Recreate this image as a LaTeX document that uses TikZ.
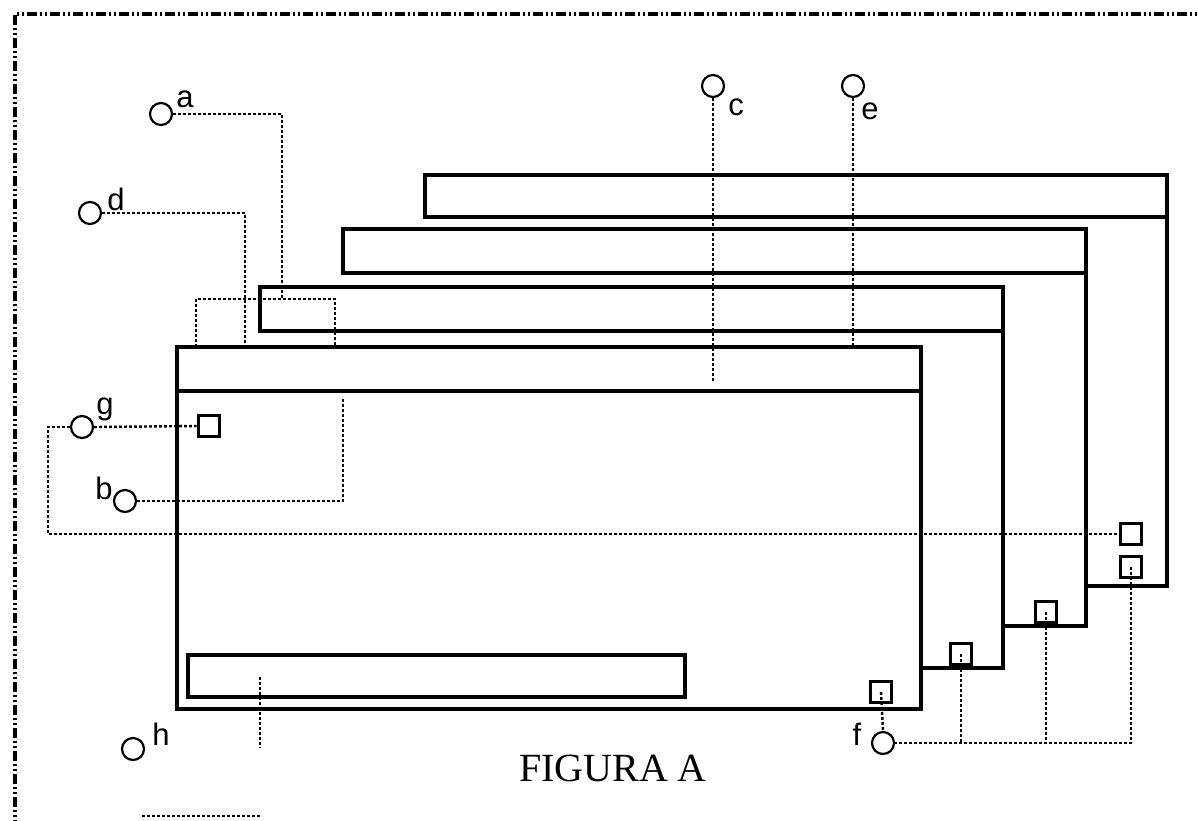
\documentclass[tikz,border=0pt]{standalone}
\usepackage{fontspec}
\setmainfont{Liberation Serif}
\newfontfamily\lblfont{Liberation Sans}
\begin{document}
\begin{tikzpicture}[x=0.5pt,y=-0.5pt,
  win/.style={line width=1.6pt, line join=miter},
  conn/.style={line width=1.2pt, dash pattern=on 1.4pt off 1.1pt},
  border/.style={line width=1.8pt, dash pattern=on 5pt off 1.3pt on 1.3pt off 1.3pt on 1.3pt off 1.3pt},
  port/.style={circle, draw, line width=1.1pt, minimum size=11pt, inner sep=0pt},
  sqbox/.style={rectangle, draw, line width=1.5pt, minimum size=10.8pt, inner sep=0pt},
  lbl/.style={inner sep=0pt, font=\lblfont\fontsize{15.5}{18}\selectfont}]
\useasboundingbox (0,0) rectangle (1198,820);
% outer frame
\draw[border] (15,830) -- (15,14) -- (1210,14);
% windows (back to front)
\draw[win] (425,175) rectangle (1167,217);
\draw[win] (1167,217) -- (1167,586) -- (1086,586);
\draw[win] (343,229) rectangle (1086,273);
\draw[win] (1086,273) -- (1086,626) -- (1003,626);
\draw[win] (260,287) rectangle (1003,331);
\draw[win] (1003,331) -- (1003,668) -- (921,668);
\draw[win] (177,347) rectangle (921,709);
\draw[win] (177,391) -- (921,391);
\draw[win] (188,655) rectangle (685,697);
% ports
\node[port] (a) at (161,114) {};
\node[port] (d) at (90,213) {};
\node[port] (c) at (713,86) {};
\node[port] (e) at (853,86) {};
\node[port] (g) at (82,427) {};
\node[port] (b) at (125,501) {};
\node[port] (h) at (133,749) {};
\node[port] (f) at (883,743) {};
% labels
\node[lbl] at (185,99) {a};
\node[lbl] at (116,199) {d};
\node[lbl] at (736,107) {c};
\node[lbl] at (870,111) {e};
\node[lbl] at (105,409) {g};
\node[lbl] at (104,488) {b};
\node[lbl] at (161,734) {h};
\node[lbl] at (857,734) {f};
% small squares
\node[sqbox] (sg1) at (209,426) {};
\node[sqbox] (sg2) at (1131,534) {};
\node[sqbox] (sf4) at (1131,567) {};
\node[sqbox] (sf3) at (1046,612) {};
\node[sqbox] (sf2) at (961,654) {};
\node[sqbox] (sf1) at (881,692) {};
% end coordinates
\coordinate (aend) at (282,299);
\coordinate (dend) at (245,347);
\coordinate (cend) at (713,382);
\coordinate (eend) at (853,347);
\coordinate (bend) at (343,398);
\coordinate (gturn) at (48,534);
\coordinate (r1) at (196,347);
\coordinate (r2) at (335,299);
\coordinate (r3) at (335,347);
\coordinate (v1) at (260,677);
\coordinate (v2) at (260,748);
\coordinate (w1) at (142,816);
\coordinate (w2) at (262,816);
% connectors
\draw[conn] (a.east) -| (aend);
\draw[conn] (d.east) -| (dend);
\draw[conn] (r1) |- (r2) -- (r3);
\draw[conn] (c.south) -- (cend);
\draw[conn] (e.south) -- (eend);
\draw[conn] (b.east) -| (bend);
\draw[conn] (g.east) -- (sg1.west);
\draw[conn] (g.west) -| (gturn) -- (sg2.west);
\draw[conn] (sf4.center) |- (f.east);
\draw[conn] (sf3.center) -- (sf3.center |- f.east);
\draw[conn] (sf2.center) -- (sf2.center |- f.east);
\draw[conn] (sf1.center) -- (f.north);
\draw[conn] (v1) -- (v2);
\draw[conn] (w1) -- (w2);
% caption
\node[inner sep=0pt, font=\fontsize{20}{24}\selectfont] (cap) at (613,768) {FIGURA A};
\end{tikzpicture}
\end{document}
